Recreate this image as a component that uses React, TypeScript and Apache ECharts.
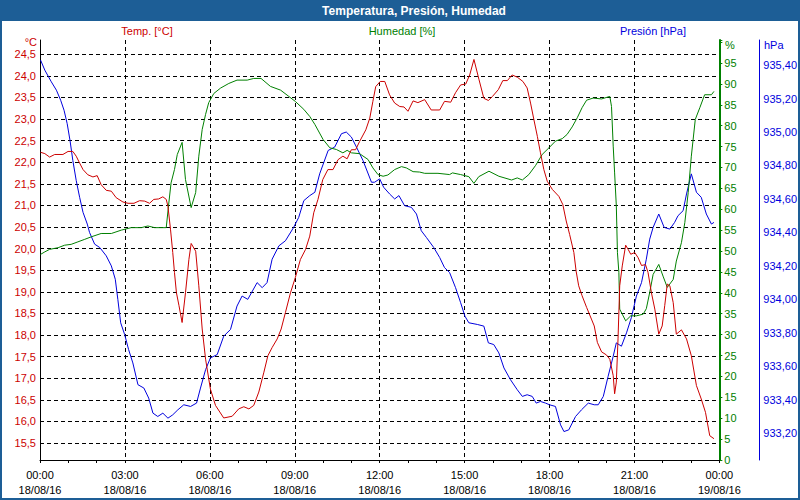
import { useEffect, useRef } from 'react';
import * as echarts from 'echarts';

const FONT = '"Liberation Sans", Arial, sans-serif';

const xTickLabels = [
  '00:00\n18/08/16', '03:00\n18/08/16', '06:00\n18/08/16', '09:00\n18/08/16', '12:00\n18/08/16',
  '15:00\n18/08/16', '18:00\n18/08/16', '21:00\n18/08/16', '00:00\n19/08/16',
];

// [hour since 18/08/16 00:00, value]
const temperatura: [number, number][] = [
  [0.02,22.23],[0.17,22.20],[0.34,22.12],[0.52,22.18],[0.81,22.18],[0.99,22.25],[1.16,22.25],[1.28,22.14],[1.40,21.98],[1.52,21.83],[1.69,21.71],[1.87,21.66],[2.02,21.69],[2.16,21.48],[2.34,21.35],[2.52,21.33],[2.69,21.18],[2.93,21.08],[3.11,21.05],[3.32,21.05],[3.52,21.11],[3.70,21.10],[3.87,21.05],[4.02,21.14],[4.19,21.15],[4.34,21.20],[4.46,21.14],[4.52,20.98],[4.61,20.45],[4.69,19.91],[4.75,19.45],[4.82,18.98],[4.91,18.68],[5.02,18.29],[5.14,18.98],[5.26,19.75],[5.34,20.12],[5.50,19.94],[5.61,19.14],[5.73,18.14],[5.85,17.44],[6.02,16.75],[6.20,16.37],[6.49,16.08],[6.79,16.12],[7.02,16.29],[7.20,16.34],[7.38,16.29],[7.55,16.37],[7.73,16.68],[7.91,17.14],[8.05,17.52],[8.20,17.71],[8.38,17.91],[8.52,18.14],[8.67,18.52],[8.85,18.98],[9.02,19.33],[9.20,19.75],[9.38,19.98],[9.53,20.29],[9.67,20.83],[9.82,21.14],[9.99,21.60],[10.17,21.83],[10.35,21.83],[10.53,22.06],[10.70,22.14],[10.85,22.08],[11.00,22.29],[11.15,22.29],[11.29,22.48],[11.51,22.75],[11.65,23.02],[11.76,23.41],[11.86,23.75],[12.02,23.87],[12.18,23.87],[12.35,23.56],[12.53,23.37],[12.71,23.29],[12.86,23.28],[13.00,23.18],[13.18,23.42],[13.35,23.38],[13.59,23.45],[13.82,23.21],[14.12,23.21],[14.29,23.41],[14.51,23.39],[14.68,23.61],[14.86,23.79],[15.04,23.81],[15.18,24.02],[15.33,24.38],[15.51,23.91],[15.68,23.48],[15.84,23.43],[15.98,23.52],[16.19,23.68],[16.35,23.89],[16.51,23.89],[16.68,24.02],[16.86,23.97],[17.06,23.87],[17.21,23.72],[17.33,23.37],[17.45,22.98],[17.57,22.60],[17.68,22.22],[17.80,21.83],[17.92,21.56],[18.10,21.37],[18.33,21.21],[18.47,21.02],[18.59,20.64],[18.71,20.33],[18.86,19.91],[18.94,19.48],[19.03,19.14],[19.15,18.91],[19.31,18.64],[19.48,18.37],[19.58,18.21],[19.69,17.83],[19.84,17.61],[20.01,17.54],[20.13,17.44],[20.25,17.06],[20.30,16.64],[20.36,16.91],[20.42,17.91],[20.48,19.14],[20.57,19.60],[20.69,20.08],[20.78,19.98],[20.87,19.87],[21.01,19.91],[21.13,19.79],[21.25,19.61],[21.39,19.63],[21.48,19.45],[21.60,18.98],[21.72,18.60],[21.86,18.02],[21.98,18.21],[22.07,18.68],[22.16,19.18],[22.25,19.14],[22.37,18.75],[22.48,18.02],[22.66,18.12],[22.84,17.91],[23.01,17.52],[23.19,16.83],[23.36,16.52],[23.51,16.21],[23.66,15.67],[23.81,15.60],
];

const humedad: [number, number][] = [
  [0.02,49.2],[0.17,49.8],[0.34,50.4],[0.64,50.8],[0.87,51.4],[1.10,51.6],[1.34,52.2],[1.58,52.8],[1.81,53.4],[2.16,54.2],[2.52,54.2],[2.87,55.0],[3.22,55.6],[3.58,55.6],[3.81,56.0],[4.05,55.6],[4.46,55.6],[4.54,60.8],[4.63,66.3],[4.75,69.5],[4.85,73.1],[5.02,76.0],[5.14,67.1],[5.34,60.4],[5.50,64.0],[5.61,72.7],[5.73,79.1],[5.85,82.7],[5.96,85.5],[6.14,87.7],[6.38,89.0],[6.67,90.1],[6.96,90.9],[7.32,90.9],[7.55,91.3],[7.81,91.3],[8.14,89.4],[8.50,88.5],[8.79,87.0],[9.02,85.8],[9.32,83.9],[9.53,82.2],[9.71,80.3],[10.0,76.7],[10.24,74.7],[10.47,74.3],[10.70,73.5],[10.85,74.1],[11.00,73.5],[11.29,73.3],[11.59,71.9],[11.76,69.9],[11.94,68.3],[12.12,67.9],[12.29,68.2],[12.53,69.5],[12.77,70.2],[12.94,69.9],[13.18,69.0],[13.41,68.9],[13.59,68.6],[14.06,68.6],[14.47,68.3],[14.57,68.7],[14.86,68.3],[15.15,67.8],[15.33,66.2],[15.50,67.8],[15.86,69.1],[16.21,67.9],[16.66,67.0],[16.86,67.5],[17.04,67.0],[17.27,68.3],[17.51,70.5],[17.74,73.1],[17.98,74.7],[18.21,76.3],[18.45,76.9],[18.62,77.9],[18.80,79.7],[18.98,81.9],[19.15,84.3],[19.31,86.1],[19.54,86.6],[19.84,86.4],[20.13,87.0],[20.19,84.6],[20.25,75.1],[20.30,68.7],[20.36,60.8],[20.40,49.6],[20.45,44.9],[20.48,36.1],[20.57,34.9],[20.69,33.3],[20.87,34.5],[21.07,34.5],[21.31,34.9],[21.42,36.2],[21.54,40.1],[21.66,44.4],[21.86,46.8],[22.01,44.0],[22.16,41.3],[22.37,43.2],[22.48,47.6],[22.66,52.0],[22.78,56.8],[22.90,64.0],[23.01,72.7],[23.15,81.5],[23.31,84.3],[23.48,87.4],[23.72,87.4],[23.81,88.2],
];

const presion: [number, number][] = [
  [0.02,935.43],[0.17,935.37],[0.40,935.30],[0.58,935.25],[0.73,935.19],[0.85,935.13],[0.96,935.05],[1.06,934.95],[1.16,934.83],[1.28,934.71],[1.40,934.61],[1.52,934.52],[1.67,934.45],[1.75,934.40],[1.93,934.33],[2.11,934.31],[2.34,934.26],[2.52,934.20],[2.66,934.12],[2.75,934.00],[2.85,933.86],[2.99,933.79],[3.13,933.70],[3.28,933.62],[3.46,933.49],[3.67,933.47],[3.84,933.41],[3.99,933.32],[4.16,933.30],[4.34,933.32],[4.52,933.29],[4.69,933.31],[4.87,933.34],[5.08,933.37],[5.32,933.36],[5.53,933.38],[5.67,933.47],[5.85,933.58],[6.02,933.65],[6.26,933.67],[6.49,933.78],[6.73,933.82],[6.96,933.96],[7.14,934.02],[7.34,934.00],[7.67,934.10],[7.85,934.07],[8.02,934.10],[8.20,934.24],[8.44,934.32],[8.67,934.35],[8.96,934.43],[9.14,934.49],[9.32,934.59],[9.53,934.62],[9.71,934.64],[9.88,934.75],[10.18,934.89],[10.41,934.91],[10.65,934.99],[10.82,935.00],[11.00,934.97],[11.18,934.91],[11.41,934.83],[11.71,934.70],[11.82,934.70],[12.00,934.72],[12.14,934.67],[12.35,934.63],[12.53,934.60],[12.68,934.62],[12.88,934.56],[13.12,934.55],[13.30,934.51],[13.47,934.41],[13.65,934.37],[13.91,934.31],[14.12,934.25],[14.29,934.19],[14.47,934.16],[14.68,934.07],[14.86,933.98],[15.01,933.90],[15.15,933.86],[15.45,933.85],[15.68,933.84],[15.84,933.74],[16.03,933.73],[16.21,933.68],[16.39,933.59],[16.62,933.52],[16.86,933.46],[17.04,933.42],[17.21,933.43],[17.39,933.42],[17.53,933.38],[17.68,933.39],[17.86,933.38],[18.00,933.37],[18.21,933.36],[18.39,933.25],[18.51,933.21],[18.68,933.22],[18.92,933.30],[19.13,933.34],[19.37,933.38],[19.58,933.37],[19.72,933.37],[19.90,933.42],[20.07,933.54],[20.25,933.66],[20.36,933.74],[20.54,933.72],[20.72,933.80],[20.89,933.89],[21.07,934.02],[21.25,934.10],[21.42,934.24],[21.54,934.36],[21.66,934.43],[21.86,934.51],[22.05,934.43],[22.25,934.42],[22.42,934.46],[22.54,934.50],[22.72,934.53],[22.84,934.63],[23.01,934.75],[23.19,934.64],[23.36,934.61],[23.54,934.51],[23.72,934.45],[23.81,934.46],
];

const RED = '#cc0000';
const GREEN = '#008000';
const BLUE = '#0000dd';
const FRAME = '#1d5e96';

const isStep = (v: number, step: number) => Math.abs(v / step - Math.round(v / step)) < 1e-6;

export default function App() {
  const ref = useRef<HTMLDivElement>(null);
  useEffect(() => {
    document.body.style.margin = '0';
    const chart = echarts.init(ref.current!, null, { renderer: 'svg' });
    const dashed = { color: '#000', width: 1, type: [4, 3] as number[] };
    const txt = (text: string, x: number, y: number, color: string, align: string, font = `11px ${FONT}`, vAlign = 'middle') => ({
      type: 'text', x, y, silent: true,
      style: { text, fill: color, font, align, textAlign: align, verticalAlign: vAlign, textVerticalAlign: vAlign },
    });
    chart.setOption({
      animation: false,
      backgroundColor: '#ffffff',
      grid: { left: 40, right: 80, top: 40, bottom: 40, containLabel: false },
      xAxis: {
        type: 'value', min: 0, max: 24, interval: 3,
        axisLine: { onZero: false, lineStyle: { color: '#000', width: 1 } },
        axisTick: { show: true, length: 3, lineStyle: { color: '#000' } },
        minorTick: { show: true, splitNumber: 3, length: 3, lineStyle: { color: '#000' } },
        axisLabel: {
          formatter: (v: number) => xTickLabels[Math.round(v / 3)] ?? '',
          color: '#000', fontSize: 11, fontFamily: FONT, lineHeight: 15, margin: 7,
        },
        splitLine: { show: true, showMinLine: false, showMaxLine: false, lineStyle: dashed },
      },
      yAxis: [
        {
          type: 'value', position: 'left', min: 15.107, max: 24.83, splitNumber: 20,
          axisLine: { show: true, onZero: false, lineStyle: { color: '#000', width: 1 } },
          axisTick: { show: false },
          axisLabel: {
            formatter: (v: number) => (isStep(v, 0.5) ? v.toFixed(1).replace('.', ',') : ''),
            color: RED, fontSize: 11, fontFamily: FONT, margin: 4,
          },
          splitLine: { show: true, showMinLine: false, showMaxLine: false, lineStyle: dashed },
        },
        {
          type: 'value', position: 'right', min: 0, max: 100.5, splitNumber: 20,
          axisLine: { show: true, onZero: false, lineStyle: { color: GREEN, width: 2 } },
          axisTick: { show: true, inside: false, length: 3, lineStyle: { color: GREEN } },
          axisLabel: {
            formatter: (v: number) => (isStep(v, 5) && v <= 95 ? String(Math.round(v)) : ''),
            color: GREEN, fontSize: 11, fontFamily: FONT, margin: 5,
          },
          splitLine: { show: false },
        },
        {
          type: 'value', position: 'right', offset: 40, min: 933.04, max: 935.55, splitNumber: 12,
          axisLine: { show: true, onZero: false, lineStyle: { color: BLUE, width: 1 } },
          axisTick: { show: false },
          axisLabel: {
            formatter: (v: number) => (isStep(v, 0.2) ? v.toFixed(2).replace('.', ',') : ''),
            color: BLUE, fontSize: 11, fontFamily: FONT, margin: 4,
          },
          splitLine: { show: false },
        },
      ],
      series: [
        { name: 'Presión [hPa]', type: 'line', yAxisIndex: 2, data: presion, showSymbol: false, symbol: 'none', lineStyle: { color: BLUE, width: 1 }, itemStyle: { color: BLUE } },
        { name: 'Humedad [%]', type: 'line', yAxisIndex: 1, data: humedad, showSymbol: false, symbol: 'none', lineStyle: { color: GREEN, width: 1 }, itemStyle: { color: GREEN } },
        { name: 'Temp. [°C]', type: 'line', yAxisIndex: 0, data: temperatura, showSymbol: false, symbol: 'none', lineStyle: { color: RED, width: 1 }, itemStyle: { color: RED } },
      ],
      graphic: [
        { type: 'rect', silent: true, shape: { x: 0, y: 0, width: 800, height: 21 }, style: { fill: FRAME } },
        { type: 'rect', silent: true, shape: { x: 1, y: 1, width: 798, height: 498 }, style: { fill: 'none', stroke: FRAME, lineWidth: 2 } },
        txt('Temperatura, Presión, Humedad', 414, 11, '#ffffff', 'center', `bold 12px ${FONT}`),
        txt('Temp. [°C]', 147, 31, RED, 'center'),
        txt('Humedad [%]', 402, 31, GREEN, 'center'),
        txt('Presión [hPa]', 653, 31, BLUE, 'center'),
        txt('°C', 37, 47, RED, 'right', `11px ${FONT}`, 'bottom'),
        txt('%', 725, 45, GREEN, 'left'),
        txt('hPa', 764, 45, BLUE, 'left'),
      ],
    });
    return () => chart.dispose();
  }, []);
  return <div ref={ref} style={{ width: 800, height: 500 }} />;
}
